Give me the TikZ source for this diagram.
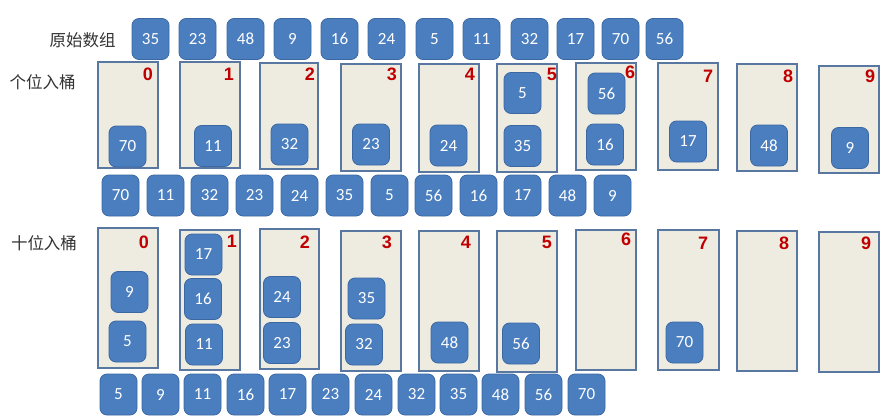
\documentclass[tikz,border=0pt]{standalone}
\usepackage{fontspec}
\setmainfont{Carlito}
\newfontfamily\cjkfont{Noto Sans CJK SC}
\newfontfamily\digfont{Liberation Sans}
\definecolor{blkfill}{HTML}{4A7EBF}
\definecolor{blkdraw}{HTML}{3B68A3}
\definecolor{bktfill}{HTML}{EEEBE1}
\definecolor{bktdraw}{HTML}{5878A2}
\definecolor{digred}{HTML}{C00000}
\definecolor{lbl}{HTML}{333333}
\tikzset{
  blk/.style={rounded corners=7pt, fill=blkfill, draw=blkdraw, line width=0.8pt,
    minimum width=37pt, minimum height=41pt, inner sep=0pt, text=white,
    font=\fontsize{17}{17}\selectfont},
  bkt/.style={draw=bktdraw, fill=bktfill, line width=1.3pt, inner sep=0pt},
  dig/.style={text=digred, font=\digfont\bfseries\fontsize{18}{18}\selectfont, inner sep=0pt},
  lab/.style={text=lbl, font=\cjkfont\fontsize{16.5}{16.5}\selectfont, inner sep=0pt}
}
\begin{document}
\begin{tikzpicture}[x=1pt,y=-1pt]
\useasboundingbox (0,0) rectangle (887,418);
\fill[white] (0,0) rectangle (887,418);
% labels
\node[lab] (l1) at (82.5,40) {原始数组};
\node[lab] (l2) at (42.5,82) {个位入桶};
\node[lab] (l3) at (44,243) {十位入桶};
% row 1
\foreach \x/\v [count=\i] in {132/35,179/23,227/48,274/9,321/16,368/24,416/5,463/11,511/32,557/17,602/70,646/56}
  \node[blk] (a\i) at (\x+18.5,39) {\v};
% buckets row 2
\foreach \xa/\ya/\xb/\yb/\dx/\dy [count=\i from 0] in {
  98/62/158/168/148/74, 180/62/240/168/229/74, 260/63/318/169/310/74,
  341/64/401/171/392/74, 419/64/479/172/470/74, 497/64/557/172/552/74,
  576/63/636/170/630/72, 658/63/718/170/708/76, 737/64/797/171/788/76,
  819/66/879/173/870/76}{
  \node[bkt, minimum width=\xb-\xa, minimum height=\yb-\ya] (p\i) at ({(\xa+\xb)/2},{(\ya+\yb)/2}) {};
  \node[dig] (pd\i) at (\dx,\dy) {\i};
}
\foreach \x/\y/\v [count=\i] in {127.5/146.5/70, 213/146/11, 289.5/144.5/32, 371/144.5/23,
  448.5/145.5/24, 522.5/93/5, 522.5/146/35, 606.5/93.5/56, 605/144.5/16, 688/141.5/17,
  769/145.5/48, 850/148/9}
  \node[blk] (pb\i) at (\x,\y) {\v};
% row 3
\foreach \x/\v [count=\i] in {102/70,147/11,191/32,236/23,281/24,326/35,371/5,415/56,460/16,504/17,549/48,594/9}
  \node[blk] (c\i) at (\x+18.5,195.5) {\v};
% buckets row 4
\foreach \xa/\ya/\xb/\yb/\dx/\dy [count=\i from 0] in {
  98/228/158/368/144/242, 180/230/240/370/232/241, 260/229/319/369/305/242,
  341/231/401/371/387/242, 419/231/479/371/466/242, 497/231/557/372/547/242,
  576/230/636/370/626/239, 658/230/719/370/703/243, 737/231/797/371/784/243,
  819/232/879/372/866/243}{
  \node[bkt, minimum width=\xb-\xa, minimum height=\yb-\ya] (q\i) at ({(\xa+\xb)/2},{(\ya+\yb)/2}) {};
  \node[dig] (qd\i) at (\dx,\dy) {\i};
}
\foreach \x/\y/\v [count=\i] in {129.5/292/9, 127.5/341.5/5, 203.5/254.5/17, 203/299/16,
  204/344.5/11, 282/297/24, 282/343/23, 366.5/298.5/35, 364/344.5/32, 449.5/342.5/48,
  521/343.5/56, 684.5/342.5/70}
  \node[blk] (qb\i) at (\x,\y) {\v};
% row 5
\foreach \x/\v [count=\i] in {100/5,142/9,184/11,227/16,269/17,312/23,355/24,398/32,440/35,482/48,525/56,568/70}
  \node[blk] (e\i) at (\x+18.5,394.5) {\v};
\end{tikzpicture}
\end{document}
